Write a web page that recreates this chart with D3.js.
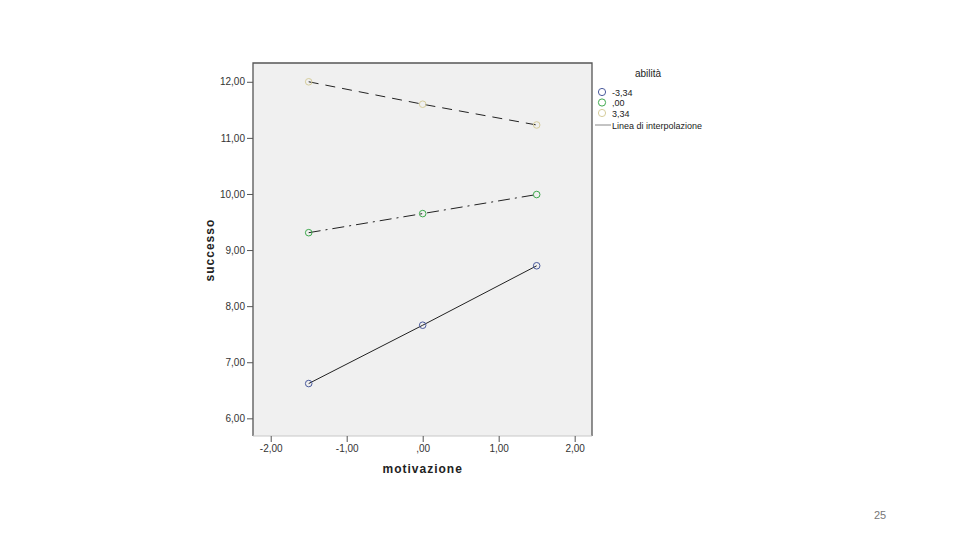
<!DOCTYPE html>
<html>
<head>
<meta charset="utf-8">
<script src="https://cdn.jsdelivr.net/npm/d3@7"></script>
<style>
  body { margin: 0; background: #fff; }
  svg { display: block; font-family: "Liberation Sans", Arial, sans-serif; }
</style>
</head>
<body>
<svg id="chart" width="960" height="540"></svg>
<script>
// data
var motivazione = [-1.5, 0, 1.5]
var groups = ["-3,34", ",00", "3,34"]
var succBassa = [6.62, 7.66, 8.72]
var succMedia = [9.31, 9.65, 9.99]
var succAlta = [12.0, 11.60, 11.23]
var xTicks = [-2, -1, 0, 1, 2]
var xTickLabels = ["-2,00", "-1,00", ",00", "1,00", "2,00"]
var yTicks = [6, 7, 8, 9, 10, 11, 12]
var yTickLabels = ["6,00", "7,00", "8,00", "9,00", "10,00", "11,00", "12,00"]

var series = [
    {name: groups[0], vals: succBassa, color: "#4a5a9c", dash: null},
    {name: groups[1], vals: succMedia, color: "#3fa94e", dash: "12,5,2,5"},
    {name: groups[2], vals: succAlta, color: "#d6cd9c", dash: "10,7"}
]

var svg = d3.select("#chart")
var margin = {top: 63, right: 368, bottom: 104, left: 253}
var width = 960 - margin.left - margin.right
var height = 540 - margin.top - margin.bottom

var g = svg.append("g")
    .attr("transform", "translate(" + margin.left + "," + margin.top + ")")

var x = d3.scaleLinear().domain([-2.233, 2.228]).range([0, width])
var y = d3.scaleLinear().domain([5.685, 12.335]).range([height, 0])

// plot background
g.append("rect")
    .attr("width", width).attr("height", height)
    .attr("fill", "#f0f0f0")

// frame: top, left, right dark; bottom light
g.append("path")
    .attr("d", "M0," + height + "V0H" + width + "V" + height)
    .attr("fill", "none").attr("stroke", "#555").attr("stroke-width", 1.3)
g.append("line")
    .attr("x1", 0).attr("x2", width).attr("y1", height).attr("y2", height)
    .attr("stroke", "#c8c8c8")

// y axis
var yAxis = g.append("g")
    .call(d3.axisLeft(y).tickValues(yTicks).tickSize(6).tickPadding(2)
        .tickFormat(function (d, i) { return yTickLabels[i] }))
yAxis.select(".domain").remove()
yAxis.selectAll("line").attr("stroke", "#555")
yAxis.selectAll("text").attr("fill", "#333").style("font-size", "10px")

// x axis
var xAxis = g.append("g")
    .attr("transform", "translate(0," + height + ")")
    .call(d3.axisBottom(x).tickValues(xTicks).tickSize(6).tickPadding(3)
        .tickFormat(function (d, i) { return xTickLabels[i] }))
xAxis.select(".domain").remove()
xAxis.selectAll("line").attr("stroke", "#555")
xAxis.selectAll("text").attr("fill", "#333").style("font-size", "10px")

// axis titles
svg.append("text")
    .attr("x", margin.left + x(0)).attr("y", 473)
    .attr("text-anchor", "middle")
    .style("font-size", "12px").style("font-weight", "bold")
    .style("letter-spacing", "1px").attr("fill", "#222")
    .text("motivazione")
svg.append("text")
    .attr("transform", "translate(214," + (margin.top + y(9)) + ") rotate(-90)")
    .attr("text-anchor", "middle")
    .style("font-size", "12px").style("font-weight", "bold")
    .style("letter-spacing", "1px").attr("fill", "#222")
    .text("successo")

// interpolation lines
var line = d3.line()
    .x(function (d, i) { return x(motivazione[i]) })
    .y(function (d) { return y(d) })

g.selectAll("path.fit")
    .data(series)
    .enter()
    .append("path")
    .attr("class", "fit")
    .attr("fill", "none")
    .attr("stroke", "#222")
    .attr("stroke-width", 1)
    .attr("stroke-dasharray", function (d) { return d.dash })
    .attr("d", function (d) { return line(d.vals) })

// points
series.forEach(function (s) {
    g.selectAll(null)
        .data(s.vals)
        .enter()
        .append("circle")
        .attr("cx", function (d, i) { return x(motivazione[i]) })
        .attr("cy", function (d) { return y(d) })
        .attr("r", 3.3)
        .attr("fill", "none")
        .attr("stroke", s.color)
        .attr("stroke-width", 1)
})

// legend
var lg = svg.append("g").attr("transform", "translate(" + (margin.left + width) + ",0)")
lg.append("text")
    .attr("x", 56).attr("y", 77)
    .attr("text-anchor", "middle")
    .style("font-size", "10px").attr("fill", "#222")
    .text("abilità")
series.forEach(function (s, i) {
    lg.append("circle")
        .attr("cx", 10).attr("cy", 92 + i * 10.5)
        .attr("r", 3.6)
        .attr("fill", "none").attr("stroke", s.color)
    lg.append("text")
        .attr("x", 20).attr("y", 95.5 + i * 10.5)
        .style("font-size", "9px").attr("fill", "#222")
        .text(s.name)
})
lg.append("line")
    .attr("x1", 3).attr("x2", 19).attr("y1", 125).attr("y2", 125)
    .attr("stroke", "#888")
lg.append("text")
    .attr("x", 20).attr("y", 128.5)
    .style("font-size", "9px").attr("fill", "#222")
    .text("Linea di interpolazione")

// page number
svg.append("text")
    .attr("x", 880).attr("y", 519)
    .attr("text-anchor", "middle")
    .style("font-size", "11px").attr("fill", "#777")
    .text("25")
</script>
</body>
</html>
